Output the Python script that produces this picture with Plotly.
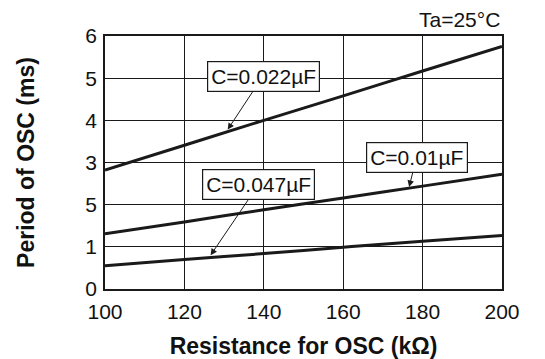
import plotly.graph_objects as go

resistance = [100, 120, 140, 160, 180, 200]
period_c022 = [2.82, 3.41, 4.00, 4.58, 5.17, 5.75]
period_c010 = [1.31, 1.59, 1.88, 2.16, 2.44, 2.72]
period_c047 = [0.55, 0.70, 0.84, 0.99, 1.13, 1.27]

y_tickvals = [0, 1, 2, 3, 4, 5, 6]
y_ticktext = ["0", "1", "5", "3", "4", "5", "6"]
x_tickvals = [100, 120, 140, 160, 180, 200]

# label, box centre (x, y), arrow head (x, y)
labels = ["C=0.022µF", "C=0.01µF", "C=0.047µF"]
box_x = [139.8, 178.5, 138.7]
box_y = [5.05, 3.13, 2.48]
head_x = [130.9, 176.6, 126.6]
head_y = [3.78, 2.42, 0.80]

FONT = "Liberation Sans, Arial, sans-serif"

fig = go.Figure()
for ys in (period_c022, period_c010, period_c047):
    fig.add_trace(go.Scatter(x=resistance, y=ys, mode="lines",
                             line=dict(color="#1a1a1a", width=3, shape="spline"),
                             showlegend=False, hoverinfo="skip"))

for t, bx, by, hx, hy in zip(labels, box_x, box_y, head_x, head_y):
    fig.add_annotation(x=hx, y=hy, ax=bx, ay=by, xref="x", yref="y",
                       axref="x", ayref="y", text=t, showarrow=True,
                       arrowhead=2, arrowsize=1.3, arrowwidth=1, arrowcolor="#1a1a1a",
                       standoff=0, bordercolor="#1a1a1a", borderwidth=1.2,
                       borderpad=3, bgcolor="white",
                       font=dict(family=FONT, size=21, color="#111"))

fig.add_annotation(x=1, y=1.01, xref="paper", yref="paper", xanchor="right",
                   yanchor="bottom", text="Ta=25°C", showarrow=False,
                   font=dict(family=FONT, size=21, color="#111"))

fig.update_layout(
    width=545, height=359,
    margin=dict(l=105, r=43, t=36, b=70),
    plot_bgcolor="white", paper_bgcolor="white",
    font=dict(family=FONT, color="#111"),
    xaxis=dict(range=[100, 200], tickvals=x_tickvals, showgrid=True,
               gridcolor="#1a1a1a", gridwidth=1.3, zeroline=False,
               showline=True, linecolor="#1a1a1a", linewidth=1.5, mirror=True,
               ticks="", tickfont=dict(family=FONT, size=21), ticklabelstandoff=3,
               automargin=False,
               title=dict(text="<b>Resistance for OSC (kΩ)</b>",
                          font=dict(family=FONT, size=23), standoff=16)),
    yaxis=dict(range=[0, 6], tickvals=y_tickvals, ticktext=y_ticktext,
               showgrid=True, gridcolor="#1a1a1a", gridwidth=1.3, zeroline=False,
               showline=True, linecolor="#1a1a1a", linewidth=1.5, mirror=True,
               ticks="", tickfont=dict(family=FONT, size=21), ticklabelstandoff=2,
               title=dict(text="<b>Period of OSC (ms)</b>",
                          font=dict(family=FONT, size=23), standoff=44)),
)

fig.write_html("out.html")
